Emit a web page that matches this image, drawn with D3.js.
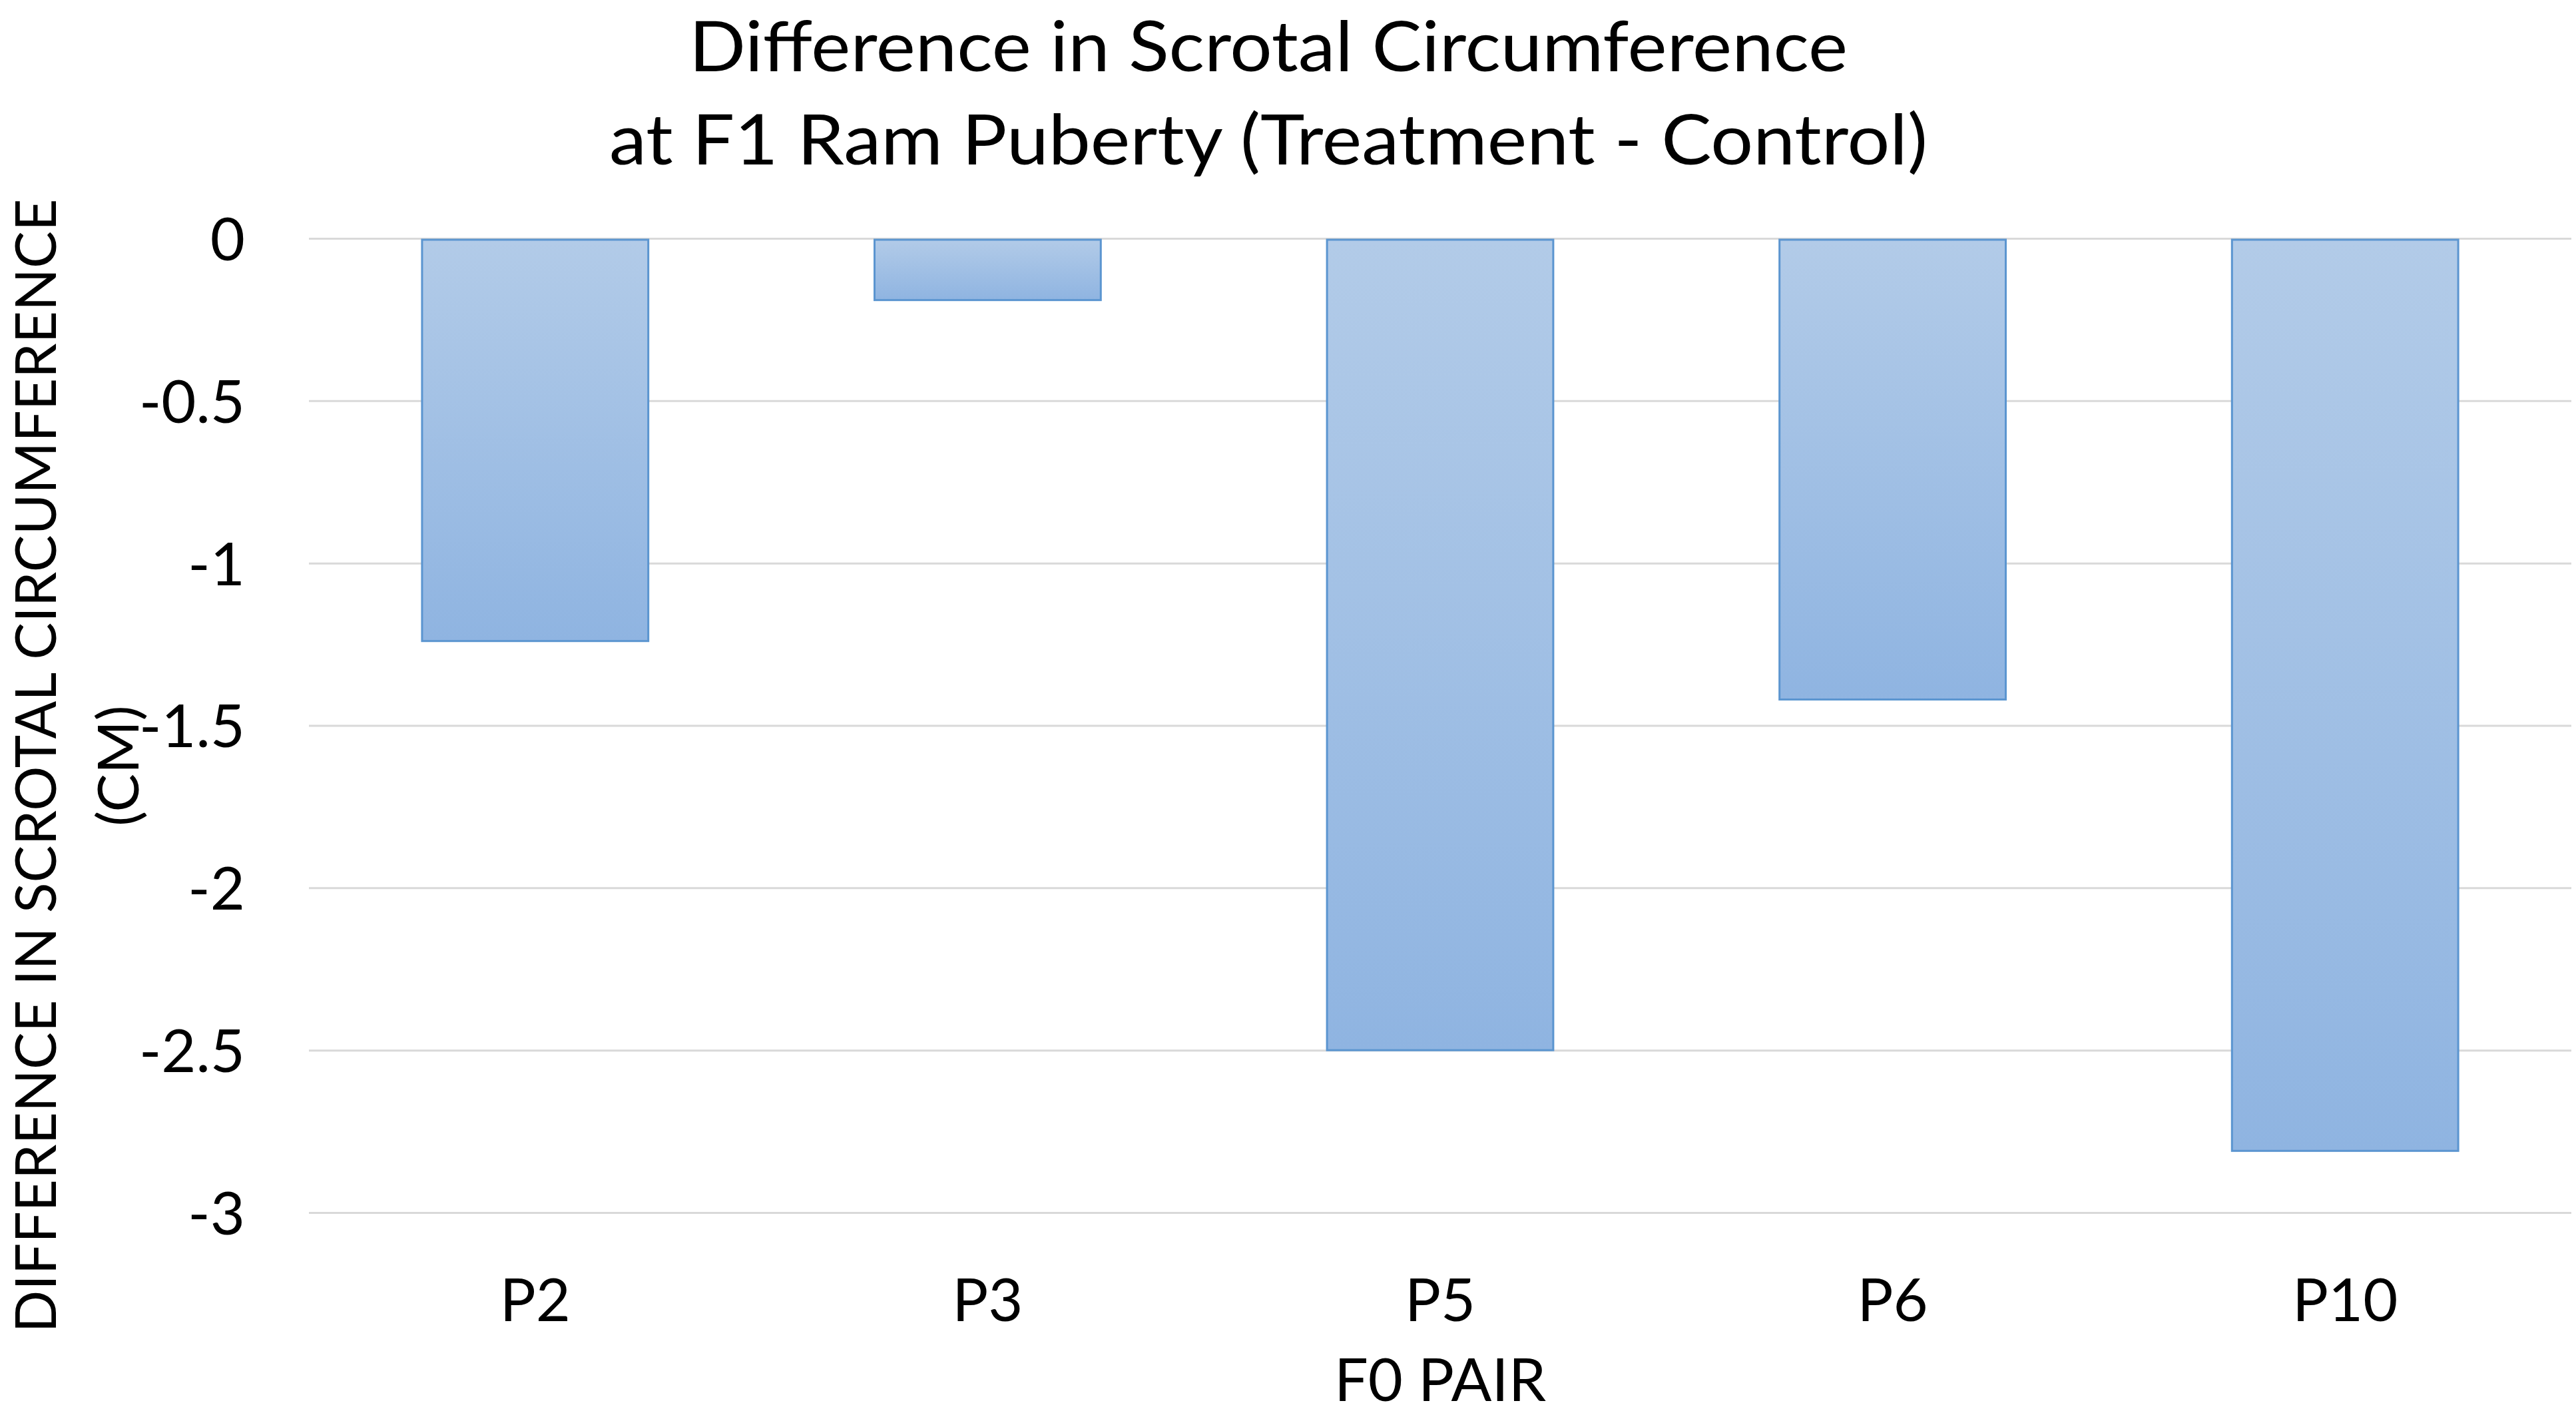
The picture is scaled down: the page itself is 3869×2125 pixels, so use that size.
<!DOCTYPE html>
<html>
<head>
  <meta charset="utf-8">
  <script src="https://d3js.org/d3.v7.min.js"></script>
  <style>
    body { margin: 0; background: white; }
    svg { font-family: Lato, "Open Sans", sans-serif; display: block; }
    .grid line { stroke: #d9d9d9; stroke-width: 3; }
    .grid .domain { display: none; }
    .tick-label { font-family: Lato, "Open Sans", sans-serif; font-size: 90px; fill: #000; }
  </style>
</head>
<body>
  <svg width="3869" height="2125"></svg>

  <script>
    // chart data
    const categories = ["P2", "P3", "P5", "P6", "P10"];
    const values = [-1.24, -0.19, -2.50, -1.42, -2.81];
    const yTicks = [0, -0.5, -1, -1.5, -2, -2.5, -3];
    const titleLines = ["Difference in Scrotal Circumference", "at F1 Ram Puberty (Treatment - Control)"];
    const yTitleLines = ["DIFFERENCE IN SCROTAL CIRCUMFERENCE", "(CM)"];
    const xTitle = "F0 PAIR";

    const svg = d3.select("svg");
    const plotLeft = 464, plotRight = 3862, plotTop = 358, plotBottom = 1821;

    const xScale = d3.scaleBand()
      .domain(categories)
      .range([plotLeft, plotRight])
      .paddingInner(0.5)
      .paddingOuter(0.25);

    const yScale = d3.scaleLinear()
      .domain([-3, 0])
      .range([plotBottom, plotTop]);

    // bar gradient
    const grad = svg.append("defs").append("linearGradient")
      .attr("id", "barGrad")
      .attr("x1", 0).attr("y1", 0).attr("x2", 0).attr("y2", 1);
    grad.append("stop").attr("offset", "0%").attr("stop-color", "#b2cbe8");
    grad.append("stop").attr("offset", "100%").attr("stop-color", "#8fb4e1");

    // gridlines + y tick labels
    const yAxis = svg.append("g")
      .attr("class", "grid")
      .attr("transform", `translate(${plotLeft},0)`)
      .call(d3.axisLeft(yScale)
        .tickValues(yTicks)
        .tickSize(-(plotRight - plotLeft))
        .tickPadding(96)
        .tickFormat(d => String(d)));
    yAxis.selectAll("text")
      .attr("class", "tick-label")
      .attr("dy", "0.36em");

    // bars
    svg.selectAll(".bar")
      .data(categories.map((c, i) => ({ c, v: values[i] })))
      .enter()
      .append("rect")
      .attr("class", "bar")
      .attr("x", d => xScale(d.c))
      .attr("y", yScale(0) + 2)
      .attr("width", xScale.bandwidth())
      .attr("height", d => yScale(d.v) - yScale(0) - 2)
      .attr("fill", "url(#barGrad)")
      .attr("stroke", "#5b95d0")
      .attr("stroke-width", 3);

    // x labels
    const xAxis = svg.append("g")
      .attr("transform", `translate(0,${plotBottom})`)
      .call(d3.axisBottom(xScale).tickSize(0).tickPadding(0));
    xAxis.select(".domain").remove();
    xAxis.selectAll("text")
      .attr("class", "tick-label")
      .attr("y", 163)
      .attr("dy", 0);

    // chart title
    svg.append("g").selectAll("text")
      .data(titleLines)
      .enter()
      .append("text")
      .attr("x", 1905)
      .attr("y", (d, i) => 107 + i * 140)
      .attr("text-anchor", "middle")
      .attr("font-size", 105)
      .attr("textLength", (d, i) => i === 0 ? 1740 : 1980)
      .attr("lengthAdjust", "spacingAndGlyphs")
      .text(d => d);

    // axis titles
    svg.append("text")
      .attr("x", (plotLeft + plotRight) / 2)
      .attr("y", 2104)
      .attr("text-anchor", "middle")
      .attr("font-size", 90)
      .text(xTitle);

    svg.append("g")
      .attr("transform", "translate(0,1150) rotate(-90)")
      .selectAll("text")
      .data(yTitleLines)
      .enter()
      .append("text")
      .attr("x", 0)
      .attr("y", (d, i) => 84 + i * 124)
      .attr("text-anchor", "middle")
      .attr("font-size", 86)
      .attr("textLength", (d, i) => i === 0 ? 1703 : null)
      .attr("lengthAdjust", "spacingAndGlyphs")
      .text(d => d);
  </script>
</body>
</html>
